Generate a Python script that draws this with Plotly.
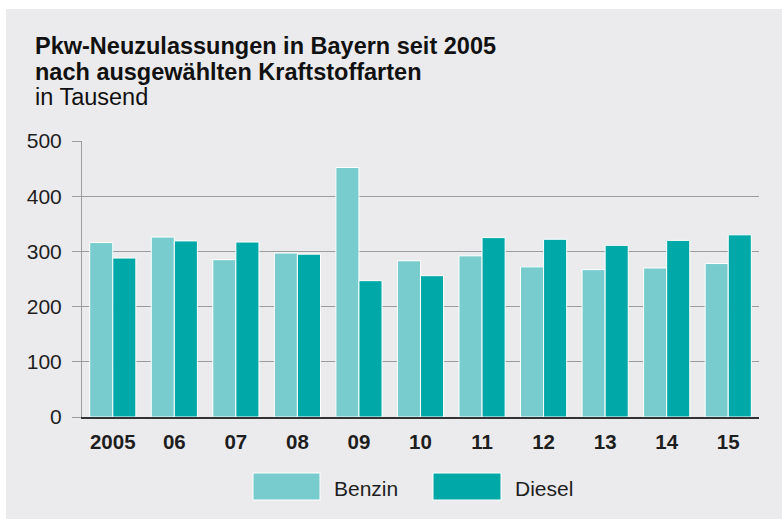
import plotly.graph_objects as go

categories = ["2005", "06", "07", "08", "09", "10", "11", "12", "13", "14", "15"]
benzin = [316, 326, 285, 297, 452, 283, 292, 272, 267, 270, 278]
diesel = [288, 319, 317, 295, 247, 256, 325, 322, 311, 320, 330]
y_ticks = [0, 100, 200, 300, 400, 500]
series_names = ["Benzin", "Diesel"]
title_lines = ["Pkw-Neuzulassungen in Bayern seit 2005", "nach ausgewählten Kraftstoffarten", "in Tausend"]

C_BENZIN = "#79cccd"
C_DIESEL = "#00a8a8"
BG = "#ebebed"
TXT = "#1e1e1e"
FONT = "Liberation Sans, Arial, Helvetica, sans-serif"

fig = go.Figure()
fig.add_trace(go.Bar(x=categories, y=benzin, name=series_names[0],
                     marker=dict(color=C_BENZIN, line=dict(color="white", width=1)),
                     showlegend=False))
fig.add_trace(go.Bar(x=categories, y=diesel, name=series_names[1],
                     marker=dict(color=C_DIESEL, line=dict(color="white", width=1)),
                     showlegend=False))

W, H = 782, 519
L, R, T, B = 82, 23, 141, 102
pw, ph = W - L - R, H - T - B

def px_x(x):
    return (x - L) / pw

def px_y(y):
    return (H - B - y) / ph

shapes = [
    # white outer strips (top and left) around the gray panel
    dict(type="rect", xref="paper", yref="paper", layer="below",
         x0=px_x(-20), x1=px_x(6), y0=px_y(560), y1=px_y(-20),
         fillcolor="white", line=dict(width=0)),
    dict(type="rect", xref="paper", yref="paper", layer="below",
         x0=px_x(-20), x1=px_x(820), y0=px_y(9), y1=px_y(-20),
         fillcolor="white", line=dict(width=0)),
    # legend swatches
    dict(type="rect", xref="paper", yref="paper",
         x0=px_x(253), x1=px_x(320), y0=px_y(500), y1=px_y(473),
         fillcolor=C_BENZIN, line=dict(color="white", width=1)),
    dict(type="rect", xref="paper", yref="paper",
         x0=px_x(433), x1=px_x(501), y0=px_y(500), y1=px_y(473),
         fillcolor=C_DIESEL, line=dict(color="white", width=1)),
]

TS = 23.5
annotations = [
    dict(text="<b>" + title_lines[0] + "</b>", x=px_x(33), y=px_y(46), xref="paper", yref="paper",
         xanchor="left", yanchor="middle", showarrow=False, font=dict(size=TS, color="#111", family=FONT)),
    dict(text="<b>" + title_lines[1] + "</b>", x=px_x(33), y=px_y(72), xref="paper", yref="paper",
         xanchor="left", yanchor="middle", showarrow=False, font=dict(size=TS, color="#111", family=FONT)),
    dict(text=title_lines[2], x=px_x(33), y=px_y(97), xref="paper", yref="paper",
         xanchor="left", yanchor="middle", showarrow=False, font=dict(size=TS, color="#111", family=FONT)),
    dict(text=series_names[0], x=px_x(332), y=px_y(488), xref="paper", yref="paper",
         xanchor="left", yanchor="middle", showarrow=False, font=dict(size=21, color=TXT, family=FONT)),
    dict(text=series_names[1], x=px_x(513), y=px_y(488), xref="paper", yref="paper",
         xanchor="left", yanchor="middle", showarrow=False, font=dict(size=21, color=TXT, family=FONT)),
]

fig.update_layout(
    width=W, height=H,
    margin=dict(l=L, r=R, t=T, b=B, pad=0),
    paper_bgcolor=BG, plot_bgcolor=BG,
    barmode="group", bargap=0.25, bargroupgap=0,
    font=dict(family=FONT, color=TXT, size=21),
    shapes=shapes, annotations=annotations,
    showlegend=False,
)
fig.update_xaxes(
    type="category", showgrid=False, ticks="", showline=True, linecolor="#333",
    linewidth=2, tickfont=dict(size=20.5, family=FONT, color=TXT),
    ticklabelstandoff=5, tickprefix="<b>", ticksuffix="</b>", zeroline=False,
)
fig.update_yaxes(
    range=[0, 500], tickvals=y_ticks, showgrid=True, gridcolor="#9c9c9e", gridwidth=1,
    ticks="outside", ticklen=9, tickcolor="#9c9c9e", tickwidth=1,
    showline=True, linecolor="#9c9c9e", linewidth=1, zeroline=False,
    tickfont=dict(size=21, family=FONT, color=TXT), ticklabelstandoff=6,
)

fig.write_html(
    "out.html", config={"displayModeBar": False},
    post_script=("document.body.style.margin='0px';"
                 "document.body.style.overflow='hidden';"
                 "document.body.style.background='" + BG + "';"
                 "document.documentElement.style.background='" + BG + "';"),
)
